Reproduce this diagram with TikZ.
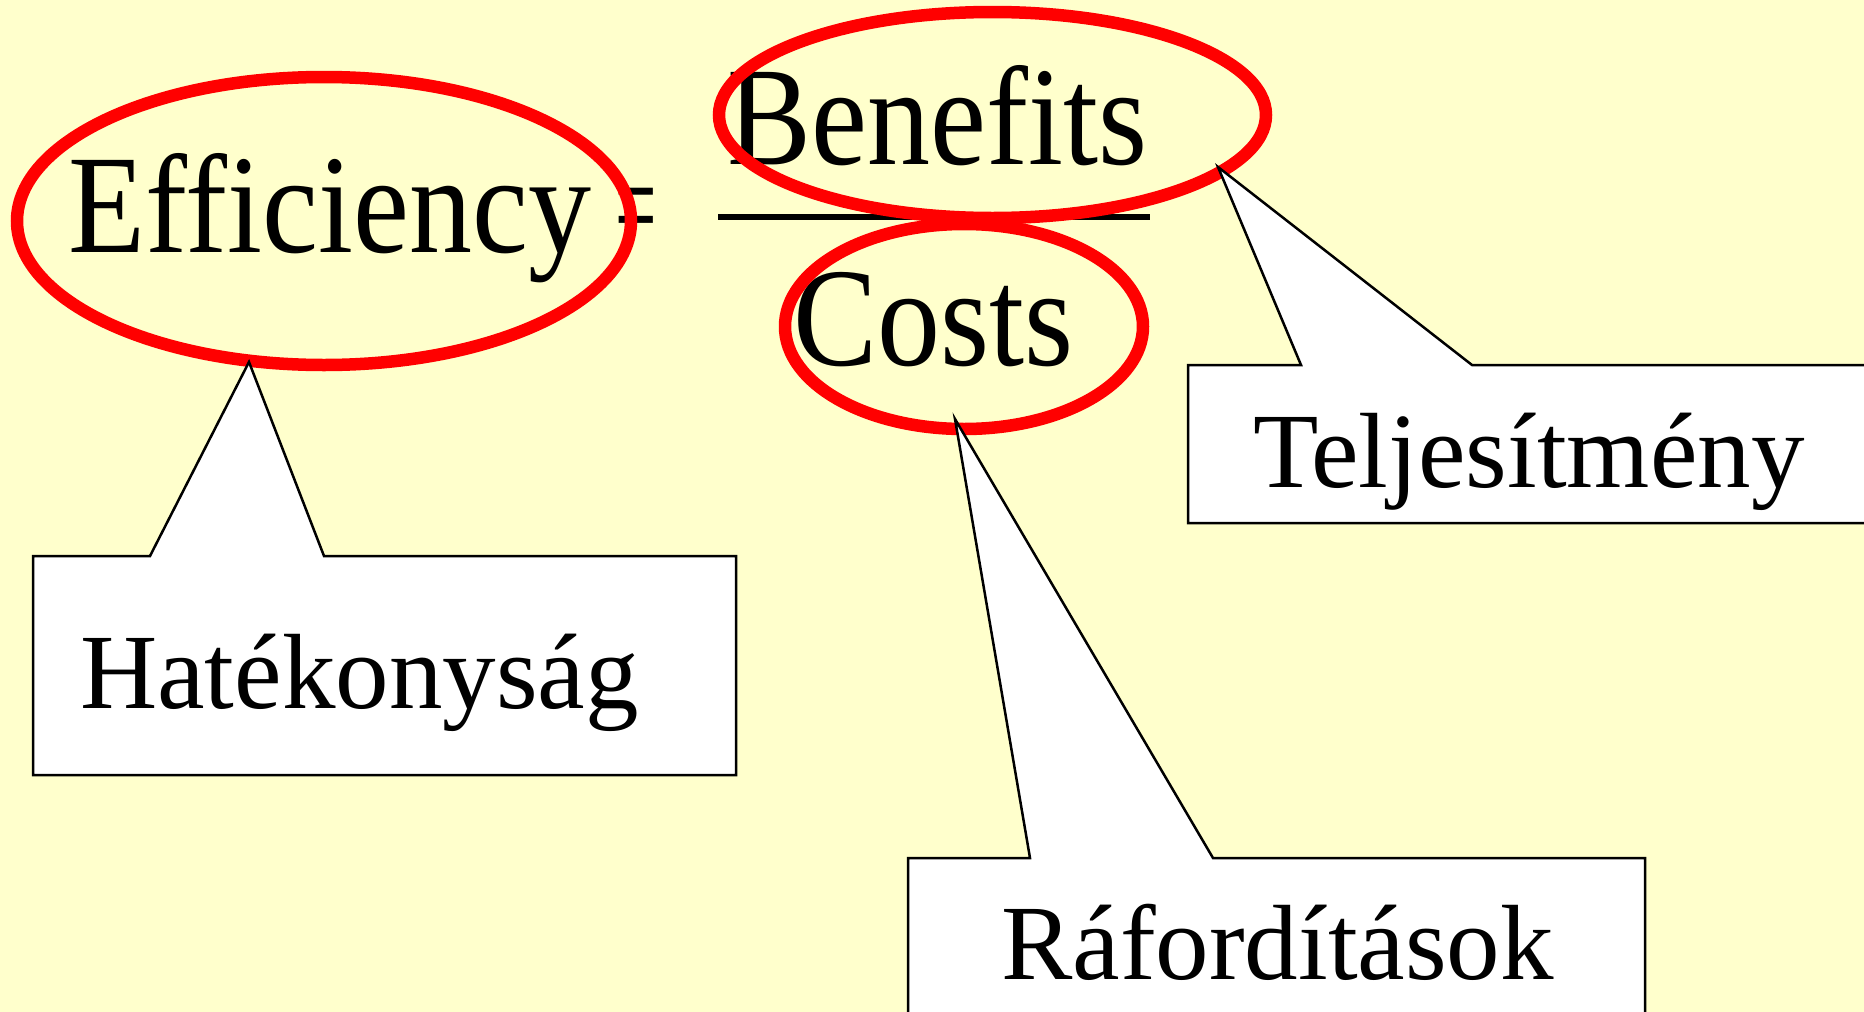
\documentclass[tikz,border=0pt]{standalone}
\usepackage{fontspec}
\setmainfont{Liberation Serif}
\definecolor{paper}{HTML}{FFFFCC}
\definecolor{ringred}{HTML}{FF0000}
\newcommand{\tallword}[1]{\scalebox{1.012}[1.13]{#1}}
\begin{document}
\begin{tikzpicture}[x=1pt,y=-1pt,
  ring/.style={draw=ringred, line width=12.5pt},
  callout/.style={draw=black, fill=white, line width=2.5pt, line join=miter},
  bigword/.style={anchor=base west, inner sep=0pt, font=\fontsize{124.5pt}{130pt}\selectfont},
  tagword/.style={anchor=base west, inner sep=0pt, font=\fontsize{107pt}{112pt}\selectfont}]
\clip (0,0) rectangle (1864,1012);
\fill[paper] (0,0) rectangle (1864,1012);

% the formula
\node[bigword] (eff) at (68.5,252) {\tallword{Efficiency}};
\node[bigword] (eq) at (615.5,252) {\scalebox{0.59}[1.13]{=}};
\node[bigword] (ben) at (727,164) {\tallword{Benefits}};
\node[bigword] (cost) at (793.5,365) {\tallword{Costs}};
\coordinate (barL) at (718,217);
\coordinate (barR) at (1150,217);
\draw[line width=6pt] (barL) -- (barR);

% red rings round the three terms
\coordinate (effC) at (324,221);
\coordinate (benC) at (992.5,115);
\coordinate (costC) at (964,326.5);
\draw[ring] (effC) ellipse [x radius=307, y radius=144];
\draw[ring] (benC) ellipse [x radius=273.5, y radius=103];
\draw[ring] (costC) ellipse [x radius=179, y radius=102.5];

% callout tips on the rings
\coordinate (effTip) at (249,362);
\coordinate (benTip) at (1218,167);
\coordinate (costTip) at (955,419);

% callout: Hatékonyság
\draw[callout] (33,556) -- (150,556) -- (effTip) -- (324,556) -- (736,556)
  -- (736,775) -- (33,775) -- cycle;
\node[tagword] (hat) at (80,708) {Hatékonyság};

% callout: Teljesítmény
\draw[callout] (1188,365) -- (1301,365) -- (benTip) -- (1472,365) -- (1890,365)
  -- (1890,523) -- (1188,523) -- cycle;
\node[tagword] (tel) at (1253,487) {Teljesítmény};

% callout: Ráfordítások
\draw[callout] (908,858) -- (1030,858) -- (costTip) -- (1213,858) -- (1645,858)
  -- (1645,1040) -- (908,1040) -- cycle;
\node[tagword] (raf) at (1001,979) {Ráfordítások};
\end{tikzpicture}
\end{document}
